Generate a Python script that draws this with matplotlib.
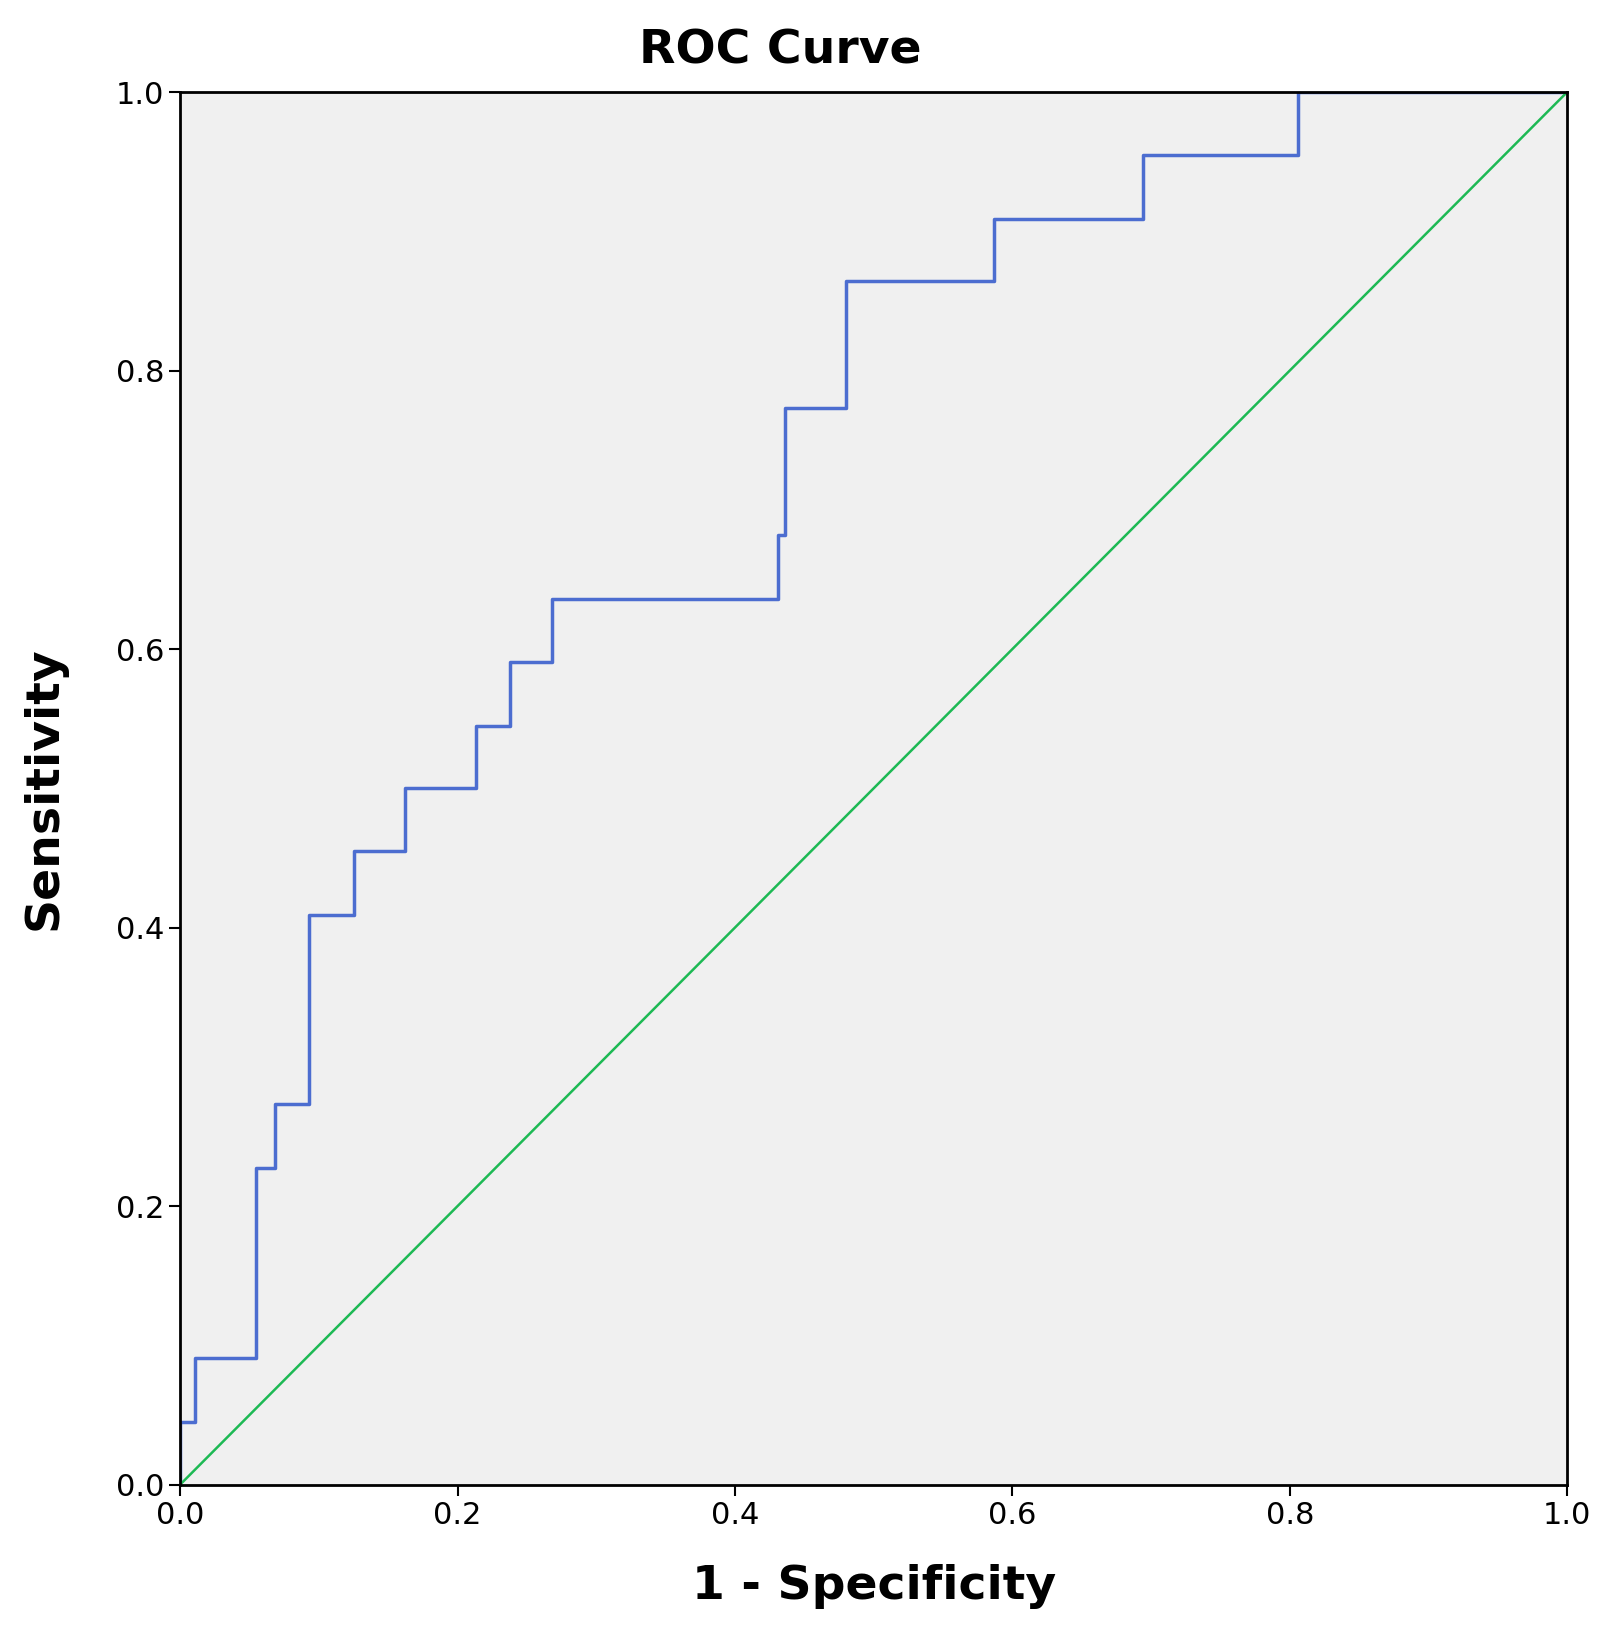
import matplotlib
matplotlib.use("Agg")
import matplotlib.pyplot as plt

fpr = [0, 0, 0.011, 0.011, 0.055, 0.055, 0.068, 0.068, 0.093, 0.093, 0.125, 0.125, 0.162, 0.162,
       0.213, 0.213, 0.238, 0.238, 0.268, 0.268, 0.431, 0.431, 0.436, 0.436, 0.480, 0.480,
       0.587, 0.587, 0.694, 0.694, 0.806, 0.806, 1.0]
tpr = [0, 0.045, 0.045, 0.091, 0.091, 0.227, 0.227, 0.273, 0.273, 0.409, 0.409, 0.455, 0.455, 0.5,
       0.5, 0.545, 0.545, 0.591, 0.591, 0.636, 0.636, 0.682, 0.682, 0.773, 0.773, 0.864,
       0.864, 0.909, 0.909, 0.955, 0.955, 1.0, 1.0]
ref = [0, 1]
ticks = [0.0, 0.2, 0.4, 0.6, 0.8, 1.0]

fig = plt.figure(figsize=(16.09, 16.44), dpi=100)
ax = fig.add_axes([0.112, 0.097, 0.862, 0.847])
ax.set_facecolor("#f0f0f0")
ax.plot(fpr, tpr, color="#3a5fcd", lw=2.5, alpha=0.9)
ax.plot(ref, ref, color="#1db954", lw=1.8)
ax.set_xlim(0, 1); ax.set_ylim(0, 1)
ax.set_xticks(ticks); ax.set_yticks(ticks)
ax.set_xticklabels([f"{t:.1f}" for t in ticks], fontsize=22)
ax.set_yticklabels([f"{t:.1f}" for t in ticks], fontsize=22)
ax.tick_params(length=8, width=1.5)
for s in ax.spines.values():
    s.set_linewidth(2)
ax.set_xlabel("1 - Specificity", fontsize=34, fontweight="bold", labelpad=25)
ax.set_ylabel("Sensitivity", fontsize=34, fontweight="bold", labelpad=35)
fig.text(0.485, 0.955, "ROC Curve", fontsize=34, fontweight="bold", ha="center", va="bottom")
fig.savefig("out.png")
